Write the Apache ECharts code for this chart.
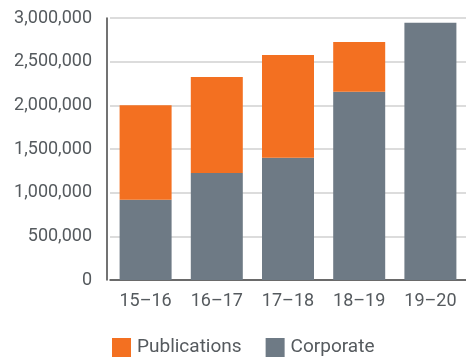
<!DOCTYPE html>
<html>
<head>
<meta charset="utf-8">
<script src="https://cdn.jsdelivr.net/npm/echarts@6/dist/echarts.min.js"></script>
<style>
  html, body { margin: 0; padding: 0; background: #ffffff; }
  #chart { width: 466px; height: 358px; }
</style>
</head>
<body>
<div id="chart"></div>
<script>
// Financial years shown along the x axis
const years = ['15–16', '16–17', '17–18', '18–19', '19–20'];
// Corporate amounts (bottom segment of each stack)
const corporate = [920000, 1225000, 1400000, 2155000, 2945000];
// Publications amounts (stacked on top of corporate)
const publications = [1080000, 1100000, 1175000, 570000, 0];
// Y axis range and step
const yMax = 3000000;
const yStep = 500000;

const FONT = '"Roboto", "Liberation Sans", sans-serif';
const TEXT = '#555a5e';

const chart = echarts.init(document.getElementById('chart'), null, { renderer: 'canvas' });
chart.setOption({
  animation: false,
  backgroundColor: '#ffffff',
  grid: { left: 110, right: -2, top: 18, bottom: 78, containLabel: false },
  legend: {
    data: ['Publications', 'Corporate'],
    left: 107,
    top: 333,
    itemWidth: 19,
    itemHeight: 19,
    itemGap: 24,
    icon: 'rect',
    textStyle: { fontFamily: FONT, fontSize: 19, color: TEXT, padding: [0, 0, 0, 1] }
  },
  xAxis: {
    type: 'category',
    data: years,
    axisTick: { show: false },
    axisLine: { show: true, lineStyle: { color: '#444', width: 1.5 } },
    axisLabel: { fontFamily: FONT, fontSize: 18, color: TEXT, margin: 12 }
  },
  yAxis: {
    type: 'value',
    min: 0,
    max: yMax,
    interval: yStep,
    offset: 3,
    axisLine: { show: true, lineStyle: { color: '#444', width: 1.5 } },
    axisTick: { show: false },
    splitLine: { lineStyle: { color: '#d0d0d0', width: 1.5 } },
    axisLabel: {
      fontFamily: FONT, fontSize: 18, color: TEXT, margin: 15,
      formatter: v => v.toLocaleString('en-US')
    }
  },
  series: [
    {
      name: 'Corporate',
      type: 'bar',
      stack: 'total',
      data: corporate,
      barWidth: 52,
      itemStyle: { color: '#6e7a85' }
    },
    {
      name: 'Publications',
      type: 'bar',
      stack: 'total',
      data: publications,
      barWidth: 52,
      itemStyle: { color: '#f37021' }
    }
  ]
});
</script>
</body>
</html>
